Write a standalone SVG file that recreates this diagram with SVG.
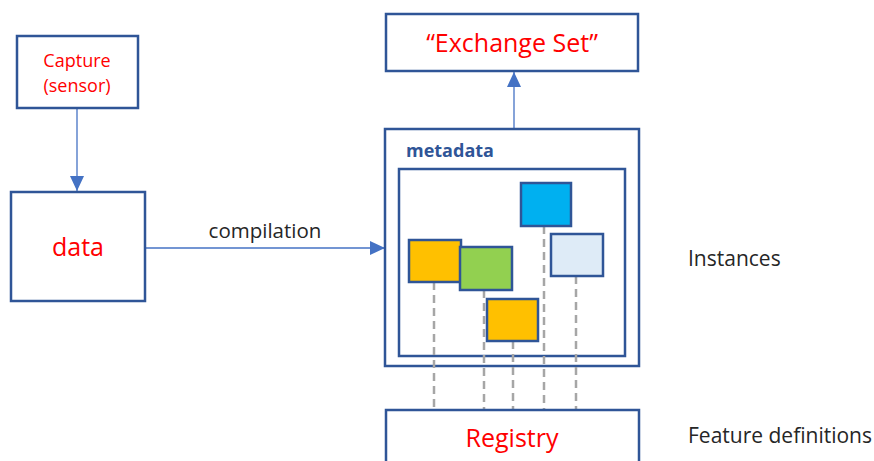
<svg xmlns="http://www.w3.org/2000/svg" width="874" height="461" viewBox="0 0 874 461">
<style>
.box{fill:#fff;stroke:#2F5597;stroke-width:2.5}
.red{fill:#FF0000;font-family:"Open Sans","Liberation Sans",sans-serif;text-anchor:middle}
.lbl{fill:#262626;font-family:"Open Sans","Liberation Sans",sans-serif}
.arrow{stroke:#4472C4;stroke-width:1.3;fill:none}
.dash{stroke:#A6A6A6;stroke-width:2.5;stroke-dasharray:8 5;fill:none}
.inst{stroke:#2F5597;stroke-width:2.5}
</style>
<defs>
<marker id="ah2" markerWidth="15" markerHeight="14" refX="15" refY="7" orient="auto" markerUnits="userSpaceOnUse" viewBox="0 0 15 14">
<path d="M0,0 L15,7 L0,14 z" fill="#4472C4"/>
</marker>
</defs>
<g id="connectors">
<line class="arrow" x1="77" y1="108" x2="77" y2="191" marker-end="url(#ah2)"/>
<line class="arrow" x1="145" y1="248" x2="385" y2="248" marker-end="url(#ah2)"/>
<line class="arrow" x1="514" y1="128" x2="514" y2="72" marker-end="url(#ah2)"/>
<text class="lbl" x="265" y="238" font-size="20.5" text-anchor="middle">compilation</text>
</g>
<g id="capture">
<rect class="box" x="17" y="36" width="121" height="72"/>
<text class="red" x="77" y="67" font-size="18">Capture</text>
<text class="red" x="77" y="92" font-size="18">(sensor)</text>
</g>
<g id="data">
<rect class="box" x="11" y="192" width="134" height="109"/>
<text class="red" x="78" y="256" font-size="25">data</text>
</g>
<g id="exchange-set">
<rect class="box" x="386" y="14" width="252" height="57"/>
<text class="red" x="512" y="52" font-size="25">“Exchange Set”</text>
</g>
<g id="metadata">
<rect class="box" x="385" y="129" width="254" height="237"/>
<text x="406" y="157" font-size="18" font-weight="bold" fill="#2F5597" font-family="'Open Sans','Liberation Sans',sans-serif">metadata</text>
<rect class="box" x="399" y="169" width="226" height="187"/>
</g>
<g id="dashed-links">
<line class="dash" x1="434" y1="282" x2="434" y2="409"/>
<line class="dash" x1="484" y1="290" x2="484" y2="409"/>
<line class="dash" x1="513" y1="341" x2="513" y2="409"/>
<line class="dash" x1="544" y1="226" x2="544" y2="409"/>
<line class="dash" x1="576" y1="276" x2="576" y2="409"/>
</g>
<g id="instances">
<rect class="inst" x="521" y="183" width="50" height="43" fill="#00B0F0"/>
<rect class="inst" x="551" y="234" width="52" height="42" fill="#DEEBF7"/>
<rect class="inst" x="409" y="240" width="52" height="42" fill="#FFC000"/>
<rect class="inst" x="460" y="247" width="52" height="43" fill="#92D050"/>
<rect class="inst" x="487" y="299" width="51" height="42" fill="#FFC000"/>
</g>
<g id="registry">
<rect class="box" x="386" y="410" width="253" height="60"/>
<text class="red" x="512" y="447" font-size="25">Registry</text>
</g>
<g id="labels">
<text class="lbl" x="688" y="266" font-size="21">Instances</text>
<text class="lbl" x="688" y="443" font-size="21">Feature definitions</text>
</g>
</svg>
